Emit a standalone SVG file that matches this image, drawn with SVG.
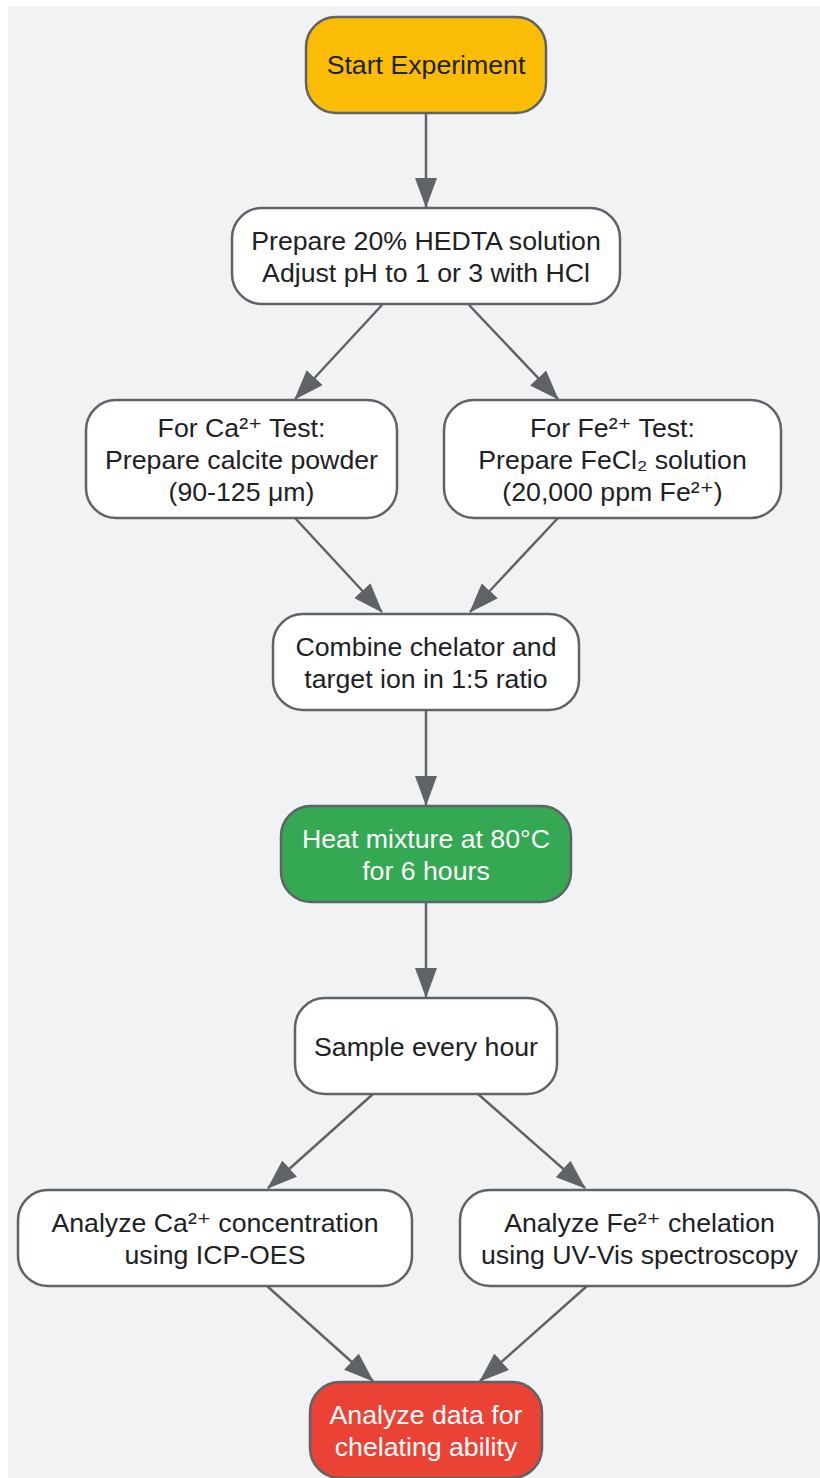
<svg xmlns="http://www.w3.org/2000/svg" width="820" height="1478" viewBox="0 0 820 1478">
<style>
.n{stroke:#5f6368;stroke-width:2.5}
.w{fill:#ffffff}
.t{font-family:"Liberation Sans",Arial,"DejaVu Sans",sans-serif;font-size:26.7px;fill:#202124;text-anchor:middle;dominant-baseline:central}
.tw{fill:#ffffff}
.e{stroke:#5f6368;stroke-width:2.5;fill:none;marker-end:url(#ah)}
</style>
<defs>
<marker id="ah" viewBox="0 0 30 22" refX="29" refY="11" markerWidth="30" markerHeight="22" markerUnits="userSpaceOnUse" orient="auto">
<path d="M0,0 L30,11 L0,22 z" fill="#5f6368"/>
</marker>
</defs>
<rect x="8" y="6" width="812" height="1472" fill="#f1f2f4"/>
<g id="connectors">
<line class="e" x1="426" y1="113" x2="426" y2="207"/>
<line class="e" x1="382" y1="305" x2="295" y2="399"/>
<line class="e" x1="469" y1="305" x2="558" y2="399"/>
<line class="e" x1="295" y1="518" x2="382" y2="612"/>
<line class="e" x1="558" y1="518" x2="470" y2="612"/>
<line class="e" x1="426" y1="710" x2="426" y2="805"/>
<line class="e" x1="426" y1="902" x2="426" y2="997"/>
<line class="e" x1="373" y1="1094" x2="268" y2="1188"/>
<line class="e" x1="478" y1="1094" x2="585" y2="1188"/>
<line class="e" x1="267" y1="1286" x2="373" y2="1381"/>
<line class="e" x1="587" y1="1286" x2="480" y2="1381"/>
</g>
<g id="start">
<rect class="n" x="306" y="17" width="240" height="96" rx="30" fill="#fbbc05"/>
<text class="t" x="426" y="65">Start Experiment</text>
</g>
<g id="prepare">
<rect class="n w" x="232" y="208" width="388" height="96" rx="30"/>
<text class="t" x="426" y="241">Prepare 20% HEDTA solution</text>
<text class="t" x="426" y="273">Adjust pH to 1 or 3 with HCl</text>
</g>
<g id="ca">
<rect class="n w" x="86" y="400" width="311" height="118" rx="30"/>
<text class="t" x="241.5" y="428">For Ca²⁺ Test:</text>
<text class="t" x="241.5" y="460">Prepare calcite powder</text>
<text class="t" x="241.5" y="492">(90-125 μm)</text>
</g>
<g id="fe">
<rect class="n w" x="444" y="400" width="337" height="118" rx="30"/>
<text class="t" x="612.5" y="428">For Fe²⁺ Test:</text>
<text class="t" x="612.5" y="460">Prepare FeCl₂ solution</text>
<text class="t" x="612.5" y="492">(20,000 ppm Fe²⁺)</text>
</g>
<g id="combine">
<rect class="n w" x="273" y="614" width="306" height="96" rx="30"/>
<text class="t" x="426" y="647">Combine chelator and</text>
<text class="t" x="426" y="679">target ion in 1:5 ratio</text>
</g>
<g id="heat">
<rect class="n" x="281" y="806" width="290" height="96" rx="30" fill="#34a853"/>
<text class="t tw" x="426" y="839">Heat mixture at 80°C</text>
<text class="t tw" x="426" y="871">for 6 hours</text>
</g>
<g id="sample">
<rect class="n w" x="295" y="998" width="262" height="96" rx="30"/>
<text class="t" x="426" y="1047">Sample every hour</text>
</g>
<g id="analyze-ca">
<rect class="n w" x="18" y="1190" width="394" height="96" rx="30"/>
<text class="t" x="215" y="1223">Analyze Ca²⁺ concentration</text>
<text class="t" x="215" y="1255">using ICP-OES</text>
</g>
<g id="analyze-fe">
<rect class="n w" x="460" y="1190" width="359" height="96" rx="30"/>
<text class="t" x="639.5" y="1223">Analyze Fe²⁺ chelation</text>
<text class="t" x="639.5" y="1255">using UV-Vis spectroscopy</text>
</g>
<g id="analyze-data">
<rect class="n" x="310" y="1382" width="232" height="96" rx="30" fill="#ea4335"/>
<text class="t tw" x="426" y="1415">Analyze data for</text>
<text class="t tw" x="426" y="1447">chelating ability</text>
</g>
</svg>
